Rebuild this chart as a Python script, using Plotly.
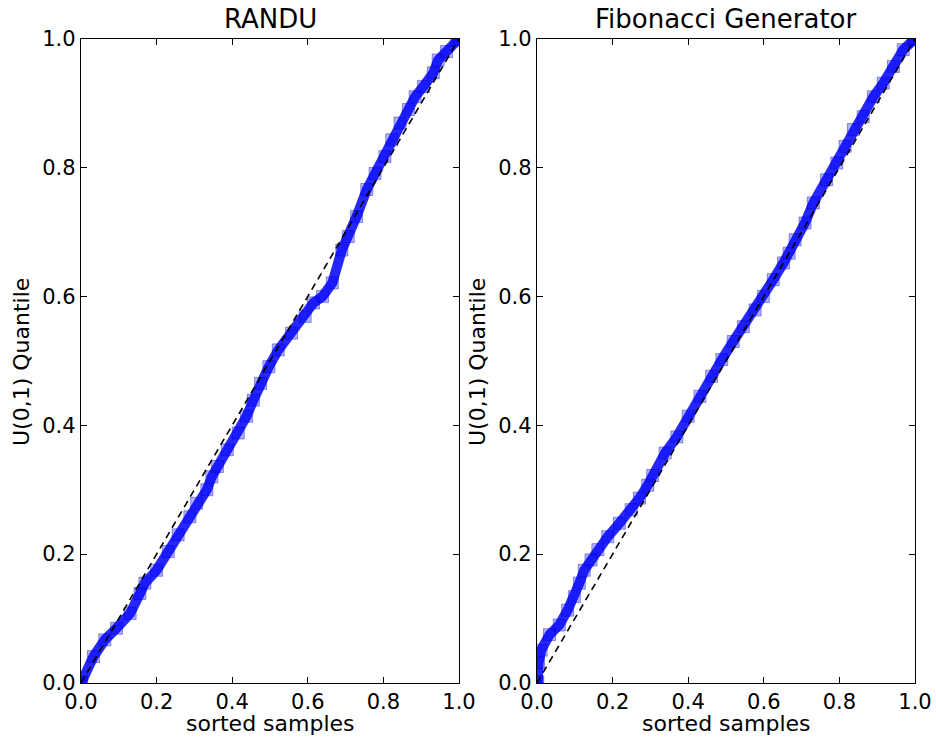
import plotly.graph_objects as go

# ---------------- data ----------------
randu_samples = [0.000, 0.002, 0.033, 0.063, 0.094, 0.130, 0.156, 0.169, 0.200, 0.231,
                 0.257, 0.288, 0.306, 0.333, 0.346, 0.361, 0.387, 0.416, 0.438, 0.456,
                 0.475, 0.497, 0.522, 0.557, 0.593, 0.615, 0.639, 0.665, 0.690, 0.707,
                 0.729, 0.756, 0.778, 0.804, 0.822, 0.844, 0.866, 0.884, 0.906, 0.932,
                 0.945, 0.967, 0.994, 1.000]
randu_quantiles = [0.000, 0.002, 0.041, 0.067, 0.085, 0.108, 0.139, 0.155, 0.175, 0.204,
                   0.230, 0.258, 0.279, 0.300, 0.320, 0.336, 0.362, 0.388, 0.414, 0.439,
                   0.465, 0.491, 0.517, 0.543, 0.569, 0.590, 0.600, 0.621, 0.672, 0.693,
                   0.724, 0.766, 0.791, 0.817, 0.843, 0.869, 0.890, 0.910, 0.926, 0.947,
                   0.967, 0.980, 0.998, 1.000]

fib_samples = [0.000, 0.002, 0.004, 0.011, 0.033, 0.059, 0.081, 0.099, 0.112, 0.125,
               0.143, 0.161, 0.187, 0.218, 0.249, 0.271, 0.293, 0.306, 0.339, 0.370,
               0.400, 0.431, 0.462, 0.489, 0.519, 0.546, 0.577, 0.599, 0.625, 0.652,
               0.667, 0.683, 0.709, 0.731, 0.766, 0.793, 0.815, 0.837, 0.863, 0.890,
               0.916, 0.943, 0.969, 0.996, 1.000]
fib_quantiles = [0.000, 0.002, 0.031, 0.051, 0.075, 0.090, 0.113, 0.134, 0.155, 0.175,
                 0.191, 0.207, 0.227, 0.248, 0.269, 0.287, 0.307, 0.322, 0.357, 0.382,
                 0.414, 0.445, 0.476, 0.502, 0.530, 0.553, 0.579, 0.600, 0.626, 0.652,
                 0.667, 0.688, 0.714, 0.745, 0.781, 0.807, 0.833, 0.859, 0.879, 0.910,
                 0.931, 0.957, 0.983, 0.998, 1.000]

diag = [0.0, 1.0]
tick_vals = [0.0, 0.2, 0.4, 0.6, 0.8, 1.0]
tick_text = ["0.0", "0.2", "0.4", "0.6", "0.8", "1.0"]
titles = ["RANDU", "Fibonacci Generator"]
x_label = "sorted samples"
y_label = "U(0,1) Quantile"

# ---------------- figure ----------------
W, H = 936, 742
FONT = "DejaVu Sans"

fig = go.Figure()

panels = [(randu_samples, randu_quantiles, "x", "y"),
          (fib_samples, fib_quantiles, "x2", "y2")]

for xs, ys, xa, ya in panels:
    fig.add_trace(go.Scatter(
        x=xs, y=ys, xaxis=xa, yaxis=ya, mode="lines+markers",
        line=dict(color="rgba(0,0,255,0.85)", width=10),
        marker=dict(symbol="square", size=12, color="rgba(0,0,255,0.30)",
                    line=dict(color="rgba(0,0,190,0.40)", width=1)),
        hoverinfo="skip"))
    fig.add_trace(go.Scatter(
        x=diag, y=diag, xaxis=xa, yaxis=ya, mode="lines",
        line=dict(color="black", width=1.6, dash="7px,5px"),
        hoverinfo="skip"))

def px_x(p):
    return p / W

def px_y(p):
    return 1 - p / H

ydom = [px_y(683), px_y(38.7)]
xdom1 = [px_x(81), px_x(459)]
xdom2 = [px_x(537), px_x(915)]

axis_common = dict(
    range=[0, 1], tickvals=tick_vals, ticktext=tick_text,
    ticks="inside", ticklen=6, tickwidth=1, tickcolor="black",
    showline=True, linecolor="black", linewidth=1.3, mirror="ticks",
    showgrid=False, zeroline=False, automargin=False,
    tickfont=dict(family=FONT, size=21, color="black"),
    ticklabelstandoff=0,
)

fig.update_layout(
    width=W, height=H,
    margin=dict(l=0, r=0, t=0, b=0),
    paper_bgcolor="white", plot_bgcolor="white",
    showlegend=False,
    xaxis=dict(domain=xdom1, anchor="y", **axis_common),
    yaxis=dict(domain=ydom, anchor="x", **axis_common),
    xaxis2=dict(domain=xdom2, anchor="y2", **axis_common),
    yaxis2=dict(domain=ydom, anchor="x2", **axis_common),
)

ann = []
for i, cx in enumerate([(81 + 459) / 2, (537 + 915) / 2]):
    ann.append(dict(text=titles[i], x=px_x(cx), y=px_y(19.5), xref="paper", yref="paper",
                    xanchor="center", yanchor="middle", showarrow=False,
                    font=dict(family=FONT, size=26, color="black")))
    ann.append(dict(text=x_label, x=px_x(cx), y=px_y(723), xref="paper", yref="paper",
                    xanchor="center", yanchor="middle", showarrow=False,
                    font=dict(family=FONT, size=22, color="black")))
for lx in [22, 478]:
    ann.append(dict(text=y_label, x=px_x(lx), y=px_y(362), xref="paper", yref="paper",
                    xanchor="center", yanchor="middle", textangle=-90, showarrow=False,
                    font=dict(family=FONT, size=22, color="black")))
fig.update_layout(annotations=ann)

fig.write_html("out.html",
               config={"displayModeBar": False},
               post_script="document.body.style.margin='0px';document.body.style.padding='0px';")
